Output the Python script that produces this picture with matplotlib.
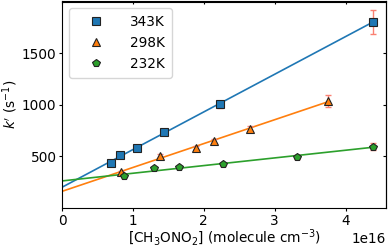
import numpy as np
import matplotlib.pyplot as plt

# [CH3ONO2] in units of 1e16 molecule cm^-3, k' in s^-1
x_343 = np.array([0.69, 0.82, 1.06, 1.44, 2.23, 4.38])
k_343 = np.array([440, 510, 585, 740, 1005, 1800])
e_343 = np.array([15, 15, 15, 20, 35, 115])

x_298 = np.array([0.83, 1.38, 1.89, 2.15, 2.65, 3.75])
k_298 = np.array([345, 508, 585, 652, 768, 1035])
e_298 = np.array([15, 15, 15, 20, 25, 55])

x_232 = np.array([0.87, 1.30, 1.65, 2.27, 3.32, 4.38])
k_232 = np.array([307, 384, 393, 422, 498, 594])
e_232 = np.array([10, 10, 10, 15, 20, 35])

series = [
    ('343K', x_343, k_343, e_343, 's', 'tab:blue'),
    ('298K', x_298, k_298, e_298, '^', 'tab:orange'),
    ('232K', x_232, k_232, e_232, 'p', 'tab:green'),
]

plt.rcParams['font.size'] = 9.8

fig, ax = plt.subplots(figsize=(3.9, 2.49), dpi=100)
fig.subplots_adjust(left=62/390, right=386/390, top=1-1.5/249, bottom=1-208/249)

for label, x, k, e, m, c in series:
    xs = x * 1e16
    ax.errorbar(xs, k, yerr=e, fmt='none', ecolor='salmon', capsize=2, elinewidth=1, zorder=2)
    ax.plot(xs, k, linestyle='none', marker=m, markersize=6, color=c,
            markeredgecolor='#222222', markeredgewidth=0.8, label=label, zorder=3)
    slope, icpt = np.polyfit(x, k, 1)
    xf = np.array([0, x.max()])
    ax.plot(xf * 1e16, slope * xf + icpt, color=c, lw=1.2, zorder=1)

ax.set_xlim(0, 4.57e16)
ax.set_ylim(0, 2000)
ax.set_yticks([500, 1000, 1500])
ax.tick_params(length=2.5, pad=1.5)

# inward ticks on top and right
top = ax.secondary_xaxis('top')
top.tick_params(direction='in', length=2.5, labeltop=False)
right = ax.secondary_yaxis('right')
right.set_yticks([500, 1000, 1500])
right.tick_params(direction='in', length=2.5, labelright=False)

ax.set_xlabel('[CH$_3$ONO$_2$] (molecule cm$^{-3}$)', labelpad=0)
ax.set_ylabel("$k'$ (s$^{-1}$)", labelpad=1)
ax.legend(loc='upper left', handlelength=3.0, handletextpad=1.0, borderpad=0.5)

plt.savefig('out.png', dpi=100)
